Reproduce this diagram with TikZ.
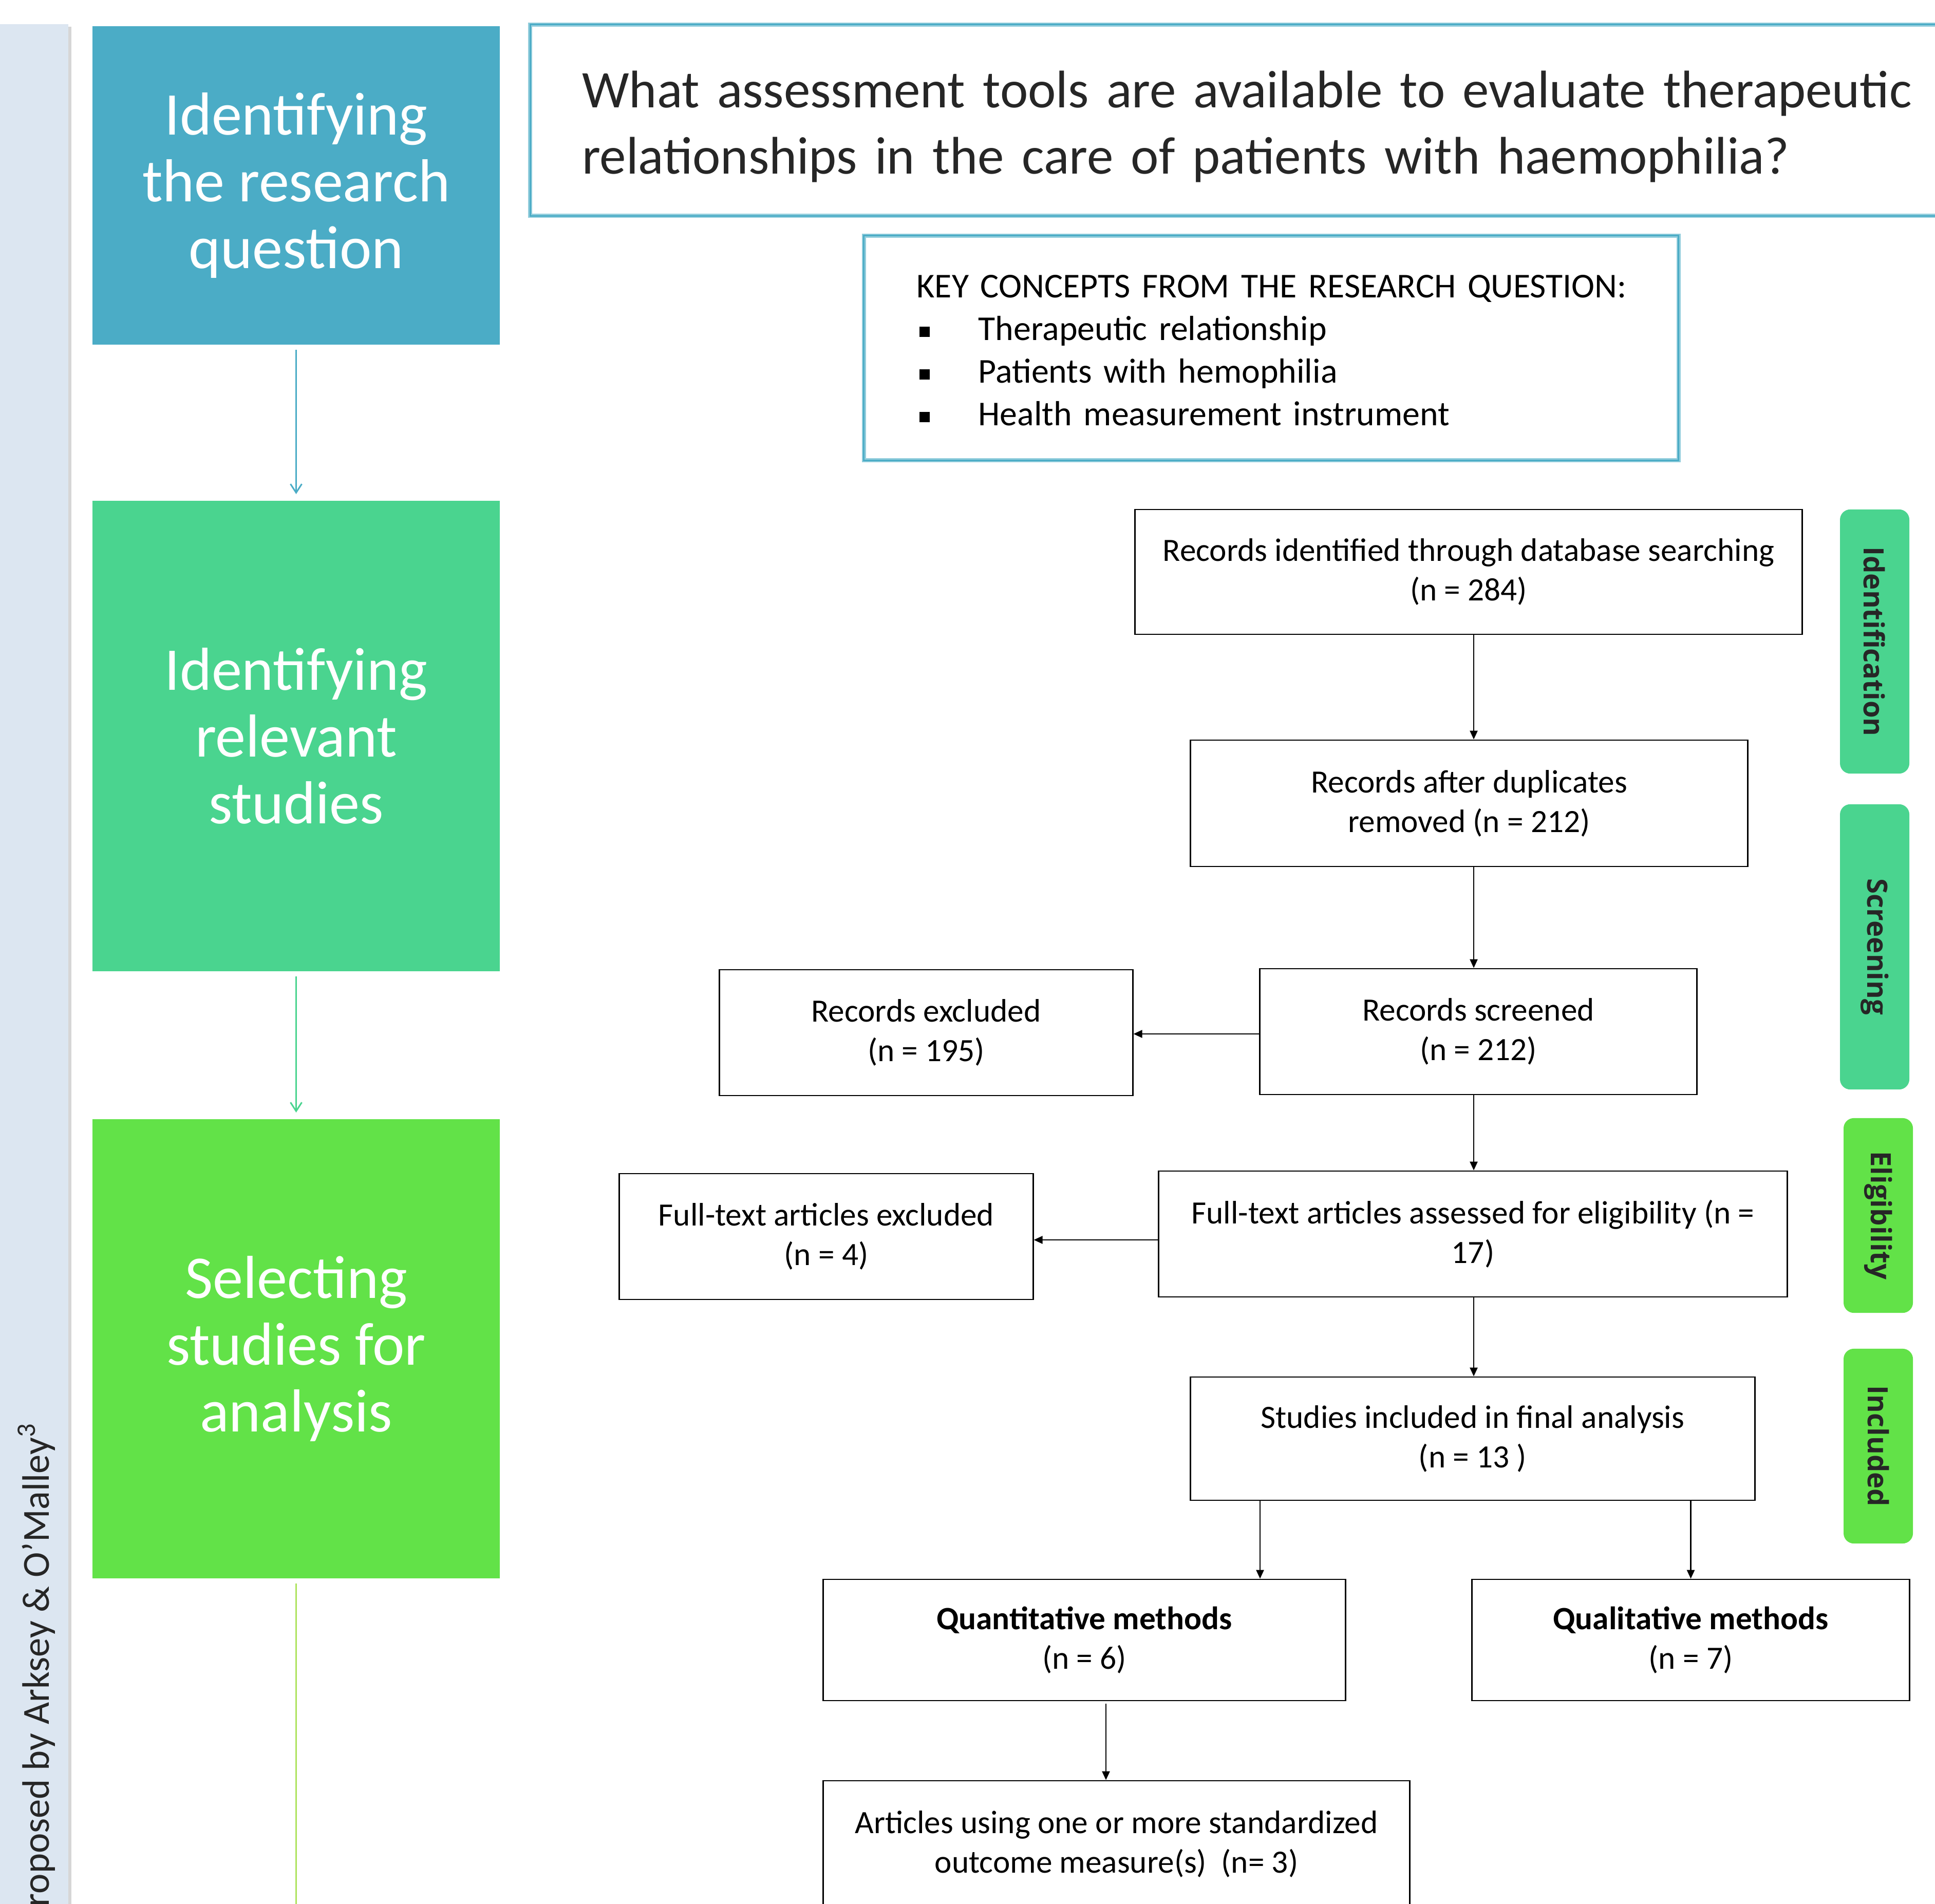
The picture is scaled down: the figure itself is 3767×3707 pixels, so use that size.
\documentclass[tikz,border=0pt]{standalone}
\usepackage{fontspec}
\setmainfont{Carlito}
\newfontfamily\sidefont{Open Sans}
\usetikzlibrary{arrows.meta}
\definecolor{qblue}{HTML}{4BACC6}
\definecolor{lblue}{HTML}{92CDDC}
\definecolor{tgreen}{HTML}{4AD48F}
\definecolor{bgreen}{HTML}{62E248}
\definecolor{lgreen}{HTML}{AEE35F}
\definecolor{stripc}{HTML}{DCE6F1}
\definecolor{dtext}{HTML}{262626}
\begin{document}
\begin{tikzpicture}[x=0.01cm,y=-0.01cm,
  stage/.style={rectangle, inner sep=0pt, text=white, align=center,
    font=\fontsize{33.6pt}{37pt}\selectfont, minimum width=7.93cm},
  flow/.style={draw=black, line width=0.75pt, rectangle, inner sep=0pt, align=center,
    font=\fontsize{18pt}{21.9pt}\selectfont},
  side/.style={rectangle, rounded corners=0.2cm, rotate=-90, inner sep=0pt,
    minimum height=1.35cm, text=dtext,
    font=\sidefont\bfseries\fontsize{15.5pt}{18pt}\selectfont},
  dbl/.style={draw=lblue, line width=0.025cm, double=qblue, double distance=0.03cm},
  parrow/.style={-{Straight Barb[length=0.17cm,width=0.22cm,line width=0.03cm]},
    line width=0.03cm, shorten <=0.09cm, shorten >=0.12cm},
  farrow/.style={-{Triangle[length=0.17cm,width=0.15cm]}, line width=0.025cm}]
\useasboundingbox (0,0) rectangle (3767,3707);
\clip (0,0) rectangle (3767,3707);
% left strip
\fill[black!16] (133,52) rectangle (139,3707);
\fill[stripc] (0,47) rectangle (133,3707);
\node[rotate=90, anchor=base east, inner sep=0pt, text=dtext,
  font=\fontsize{21.2pt}{25pt}\selectfont] (credit) at (95,2770)
  {roposed by Arksey \& O’Malley\textsuperscript{3}};
% stage boxes
\node[stage, fill=qblue, minimum height=6.20cm] (s1) at (576.5,361)
  {Identifying\\the research\\question};
\node[stage, fill=tgreen, minimum height=9.16cm] (s2) at (576.5,1433)
  {Identifying\\relevant\\studies};
\node[stage, fill=bgreen, minimum height=8.94cm] (s3) at (576.5,2626)
  {Selecting\\studies for\\analysis};
\coordinate (lend) at (576.5,3720);
\draw[parrow, qblue] (s1.south) -- (s2.north);
\draw[parrow, tgreen] (s2.south) -- (s3.north);
\draw[lgreen, line width=0.03cm, shorten <=0.09cm] (s3.south) -- (lend);
% question
\node[dbl, rectangle, inner xsep=1.01cm, inner ysep=0pt, text width=25.65cm,
  minimum height=3.72cm, align=left, text=dtext,
  font=\fontsize{29.3pt}{36.8pt}\selectfont] (q) at (2416.5,234)
  {\rule{0pt}{0.97cm}\mbox{What assessment tools are available to evaluate therapeutic}\\
   \mbox{relationships in the care of patients with haemophilia?}};
\node[dbl, rectangle, inner xsep=1.03cm, inner ysep=0pt, text width=13.79cm,
  minimum height=4.37cm, align=left,
  font=\fontsize{19.3pt}{23.6pt}\selectfont] (key) at (2474.5,677.5)
  {\rule{0pt}{0.53cm}\mbox{KEY CONCEPTS FROM THE RESEARCH QUESTION:}\\
   \hspace*{0.05cm}\rule[0.06cm]{0.2cm}{0.2cm}\hspace*{0.95cm}Therapeutic relationship\\
   \hspace*{0.05cm}\rule[0.06cm]{0.2cm}{0.2cm}\hspace*{0.95cm}Patients with hemophilia\\
   \hspace*{0.05cm}\rule[0.06cm]{0.2cm}{0.2cm}\hspace*{0.95cm}Health measurement instrument};
% flow boxes
\node[flow, minimum width=12.98cm, minimum height=2.43cm] (b1) at (2859,1113.5)
  {Records identified through database searching\\(n = 284)};
\node[flow, minimum width=10.84cm, minimum height=2.46cm] (b2) at (2860,1564)
  {Records after duplicates\\removed (n = 212)};
\node[flow, minimum width=8.50cm, minimum height=2.45cm] (b3) at (2878,2008.5)
  {Records screened\\(n = 212)};
\node[flow, minimum width=8.04cm, minimum height=2.45cm] (b4) at (1803,2010.5)
  {Records excluded\\(n = 195)};
\node[flow, minimum width=12.23cm, minimum height=2.45cm] (b5) at (2867.5,2402.5)
  {Full-text articles assessed for eligibility (n =\\17)};
\node[flow, minimum width=8.05cm, minimum height=2.45cm] (b6) at (1608.5,2407.5)
  {Full-text articles excluded\\(n = 4)};
\node[flow, minimum width=10.98cm, minimum height=2.40cm] (b7) at (2867,2801)
  {Studies included in final analysis\\(n = 13 )};
\node[flow, minimum width=10.16cm, minimum height=2.36cm] (b8) at (2111,3193)
  {\textbf{Quantitative methods}\\(n = 6)};
\node[flow, minimum width=8.51cm, minimum height=2.36cm] (b9) at (3291.5,3193)
  {\textbf{Qualitative methods}\\(n = 7)};
\node[flow, minimum width=11.41cm, minimum height=2.46cm] (b10) at (2173.5,3590)
  {Articles using one or more standardized\\outcome measure(s)\ \ (n= 3)};
\coordinate (ax) at (2869,0);
\coordinate (bx) at (2453,0);
\coordinate (cx) at (2153,0);
\coordinate (ey1) at (0,2013);
\coordinate (ey2) at (0,2414);
\draw[farrow] (b1.south -| ax) -- (b2.north -| ax);
\draw[farrow] (b2.south -| ax) -- (b3.north -| ax);
\draw[farrow] (b3.west |- ey1) -- (b4.east |- ey1);
\draw[farrow] (b3.south -| ax) -- (b5.north -| ax);
\draw[farrow] (b5.west |- ey2) -- (b6.east |- ey2);
\draw[farrow] (b5.south -| ax) -- (b7.north -| ax);
\draw[farrow] (b7.south -| bx) -- (b8.north -| bx);
\draw[farrow] (b7.south -| b9.north) -- (b9.north);
\draw[farrow, shorten <=0.05cm] (b8.south -| cx) -- (b10.north -| cx);
% phase labels
\node[side, fill=tgreen, minimum width=5.14cm] (p1) at (3649.5,1249) {Identification};
\node[side, fill=tgreen, minimum width=5.55cm] (p2) at (3649.5,1843.5) {Screening};
\node[side, fill=bgreen, minimum width=3.79cm] (p3) at (3656.5,2366.5) {Eligibility};
\node[side, fill=bgreen, minimum width=3.79cm] (p4) at (3656.5,2815.5) {Included};
\end{tikzpicture}
\end{document}
